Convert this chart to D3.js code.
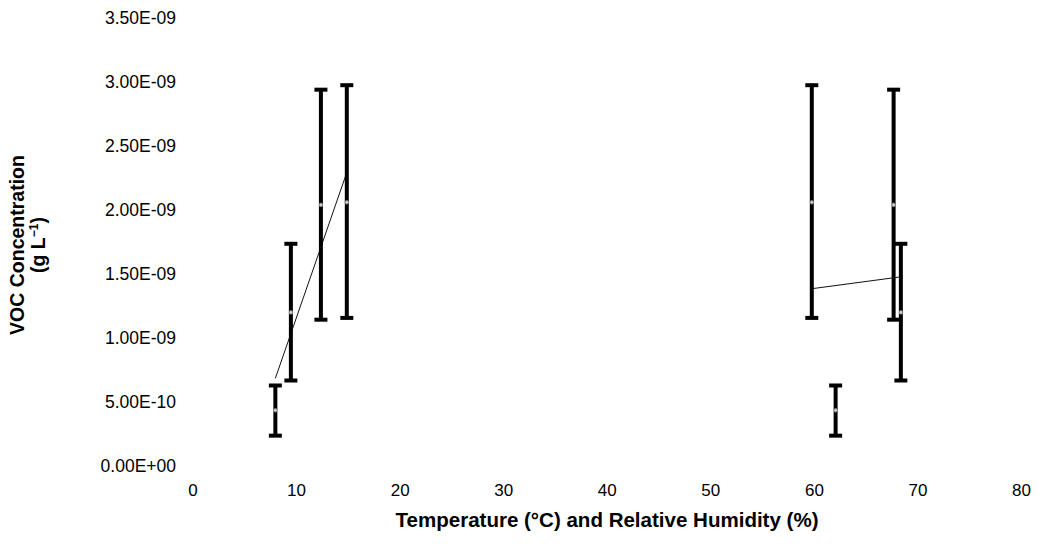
<!DOCTYPE html>
<html>
<head>
<meta charset="utf-8">
<script src="https://cdn.jsdelivr.net/npm/d3@7"></script>
<style>
  body { margin: 0; background: #fff; }
  text { font-family: "Liberation Sans", Arial, sans-serif; fill: #000; }
</style>
</head>
<body>
<div class="contents"></div>
<script>
// temperature / humidity for each measurement
var xVals   = [8, 9.5, 12.4, 14.9, 59.8, 62.1, 67.7, 68.4];
var meanVals = [0.435e-9, 1.20e-9, 2.04e-9, 2.06e-9, 2.06e-9, 0.435e-9, 2.04e-9, 1.20e-9];
var lowVals  = [0.237e-9, 0.668e-9, 1.143e-9, 1.157e-9, 1.157e-9, 0.237e-9, 1.143e-9, 0.668e-9];
var highVals = [0.629e-9, 1.736e-9, 2.94e-9, 2.975e-9, 2.975e-9, 0.629e-9, 2.94e-9, 1.736e-9];

// the two thin fit lines
var fitTemp = [{x: 8, y: 0.685e-9}, {x: 14.8, y: 2.27e-9}];
var fitHum  = [{x: 59.8, y: 1.385e-9}, {x: 68.4, y: 1.478e-9}];

var xTicks = [0, 10, 20, 30, 40, 50, 60, 70, 80];
var yTicks = [0, 0.5e-9, 1.0e-9, 1.5e-9, 2.0e-9, 2.5e-9, 3.0e-9, 3.5e-9];

var width = 1037;
var height = 544;

var svg = d3.select(".contents").append("svg")
			.attr("width", width)
			.attr("height", height);

var x = d3.scaleLinear().domain([0, 80]).range([192.5, 1021]);
var y = d3.scaleLinear().domain([0, 3.5e-9]).range([466, 18]);

function sci(v){
	if (v == 0) return "0.00E+00";
	var s = v.toExponential(2).split("e");
	var e = parseInt(s[1]);
	var es = (e < 0 ? "-" : "+") + (Math.abs(e) < 10 ? "0" : "") + Math.abs(e);
	return s[0] + "E" + es;
}

var yAxis = svg.append("g")
		.attr("transform", "translate(176,0)")
		.call(d3.axisLeft(y).tickValues(yTicks).tickFormat(sci).tickSize(0).tickPadding(0));
yAxis.select(".domain").remove();
yAxis.selectAll("text").style("font-size", "17.5px").style("font-family", "Liberation Sans, Arial, sans-serif");

var xAxis = svg.append("g")
		.attr("transform", "translate(0,484)")
		.call(d3.axisBottom(x).tickValues(xTicks).tickSize(0).tickPadding(0));
xAxis.select(".domain").remove();
xAxis.selectAll("text").style("font-size", "17px").style("font-family", "Liberation Sans, Arial, sans-serif");

// axis titles
svg.append("text")
	.attr("x", 607).attr("y", 527)
	.attr("text-anchor", "middle")
	.attr("textLength", 423).attr("lengthAdjust", "spacingAndGlyphs")
	.style("font-size", "20px").style("font-weight", "bold")
	.text("Temperature (°C) and Relative Humidity (%)");

var yt = svg.append("text")
	.attr("transform", "translate(24,245) rotate(-90)")
	.attr("text-anchor", "middle")
	.style("font-size", "19.5px").style("font-weight", "bold");
yt.append("tspan").attr("x", 0).attr("dy", 0).text("VOC Concentration");
var t2 = yt.append("tspan").attr("x", 0).attr("dy", 21).text("(g L");
t2.append("tspan").attr("dy", -7).style("font-size", "12px").text("−1");
t2.append("tspan").attr("dy", 7).text(")");

var line = d3.line().x(function(d){return x(d.x);}).y(function(d){return y(d.y);});
[fitTemp, fitHum].forEach(function(f){
	svg.append("path").datum(f)
		.attr("d", line)
		.style("fill", "none")
		.style("stroke", "#111")
		.style("stroke-width", 1);
});

var idx = d3.range(xVals.length);

svg.selectAll("line.bar")
	.data(idx).enter().append("line")
	.attr("class", "bar")
	.attr("x1", function(i){return x(xVals[i]);})
	.attr("x2", function(i){return x(xVals[i]);})
	.attr("y1", function(i){return y(highVals[i]);})
	.attr("y2", function(i){return y(lowVals[i]);})
	.style("stroke", "#000").style("stroke-width", 4);

[highVals, lowVals].forEach(function(arr){
	svg.selectAll(null)
		.data(idx).enter().append("line")
		.attr("x1", function(i){return x(xVals[i]) - 6.5;})
		.attr("x2", function(i){return x(xVals[i]) + 6.5;})
		.attr("y1", function(i){return y(arr[i]);})
		.attr("y2", function(i){return y(arr[i]);})
		.style("stroke", "#000").style("stroke-width", 4);
});

svg.selectAll("circle")
	.data(idx).enter().append("circle")
	.attr("cx", function(i){return x(xVals[i]);})
	.attr("cy", function(i){return y(meanVals[i]);})
	.attr("r", 1.8)
	.style("fill", "#ccc")
	.style("stroke", "#888")
	.style("stroke-width", 0.8);
</script>
</body>
</html>
